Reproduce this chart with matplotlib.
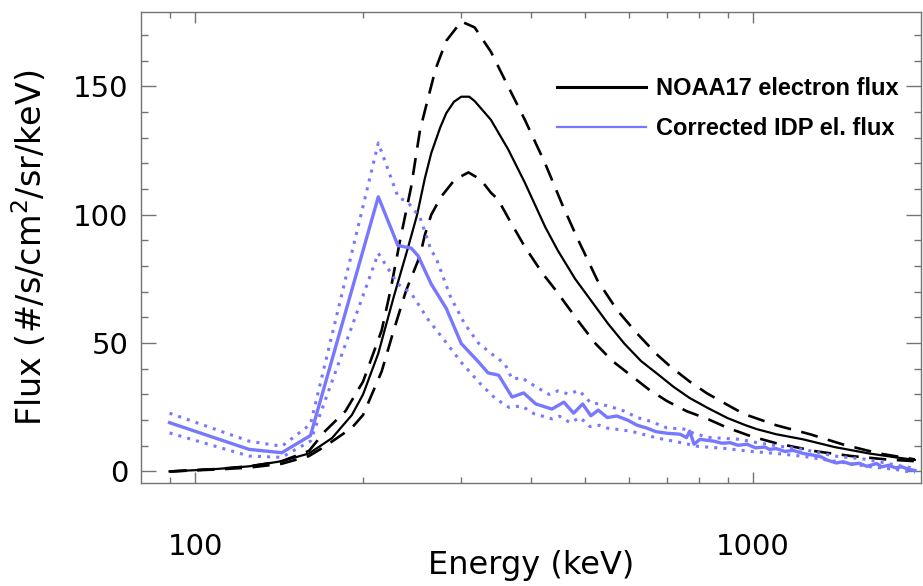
import numpy as np
import matplotlib
matplotlib.use('Agg')
import matplotlib.pyplot as plt
from matplotlib.lines import Line2D
from matplotlib.ticker import FixedLocator, NullFormatter, MultipleLocator

# NOAA17 electron flux (solid) and its upper / lower bounds (dashed)
e_noaa = [90, 100, 110, 125, 143, 160, 176, 191, 200, 213, 227, 241, 250, 258, 265, 275,
          282, 291, 300, 310, 317, 339, 364, 390, 424, 447, 480, 512, 550, 588, 630, 674,
          720, 770, 830, 900, 970, 1015, 1100, 1230, 1400, 1615, 1800, 1950]
f_noaa = [0, 0.5, 1, 2, 4, 7, 13, 22, 30, 46, 68, 87.5, 100, 114, 124, 134,
          139.6, 144, 146, 146, 144.3, 137, 125.5, 112.5, 95.3, 86, 75, 66.7, 57.5, 49.8, 43, 38,
          33, 28.6, 24.7, 20.8, 18, 16.5, 14.5, 12.5, 9.5, 7, 5.5, 4.5]

e_noaa_hi = [90, 110, 125, 143, 160, 171, 186, 200, 216, 224, 233, 244, 253, 262, 270, 282,
             300, 317, 339, 364, 390, 424, 455, 484, 526, 570, 620, 673, 710, 770, 826, 890,
             963, 1100, 1265, 1450, 1683, 1950]
f_noaa_hi = [0, 1, 2, 4, 8, 15.7, 23.5, 35, 55, 70.6, 90, 111, 133, 146, 157, 167.8,
             175.3, 173, 163.5, 150, 137, 120, 104, 91, 74.5, 63, 53.7, 45.5, 41, 35, 30.5, 26.5,
             22.4, 18, 14.5, 10.5, 7, 4.7]

e_noaa_lo = [90, 110, 125, 143, 160, 171, 191, 200, 216, 227, 239, 253, 258, 265, 276, 292,
             309, 325, 339, 349, 368, 390, 420, 446, 459, 490, 522, 560, 596, 650, 700, 760,
             830, 900, 992, 1100, 1300, 1500, 1730, 1950]
f_noaa_lo = [0, 0.8, 1.5, 3, 6, 9.8, 17, 22, 39, 55, 70.6, 84, 92, 100, 107, 113.7,
             116.5, 113.7, 108.6, 106, 97, 87.5, 77, 69.8, 66, 57.6, 49.8, 43, 38.4, 32, 27.5, 23.5,
             20.4, 17, 13.7, 11, 7.8, 6, 4.7, 4]

# Corrected IDP electron flux (solid) and bounds (dotted)
e_idp = [90, 125, 143, 161, 213, 231, 244, 251, 265, 282, 300, 322, 335, 350, 370, 388,
         408, 436, 458, 477, 495, 512, 528, 548, 570, 596, 620, 645, 670, 700, 740, 760,
         770, 784, 803, 850, 880, 910, 940, 975, 1010, 1050, 1070, 1100, 1140, 1180, 1230,
         1270, 1320, 1360, 1410, 1450, 1500, 1550, 1600, 1665, 1700, 1750, 1800, 1850, 1900, 1950]
f_idp = [19, 8.6, 7.3, 14, 107, 88, 87, 84, 73, 63.5, 49.8, 42.7, 38.4, 37.5, 29, 30.6,
         26.3, 24.3, 27, 22.7, 26.3, 21.7, 23.9, 21, 21.6, 20, 18, 16.9, 15.5, 14.9, 14.5, 13.2,
         15.7, 10.6, 12.5, 11.8, 11, 11.2, 10.2, 10.6, 9.2, 9.5, 8.6, 8.9, 7.8, 8.2, 7,
         6.5, 5.8, 4.4, 3.3, 3.8, 2.8, 3.2, 2.0, 3.1, 1.8, 2.4, 1.4, 1.8, 0.8, 0.4]

e_idp_hi = [90, 125, 143, 161, 213, 231, 241, 253, 265, 270, 287, 304, 322, 339, 359, 370,
            385, 408, 431, 447, 466, 488, 512, 532, 560, 588, 620, 654, 700, 752, 780, 830,
            870, 950, 1000, 1100, 1230, 1400, 1600, 1800, 1950]
f_idp_hi = [22.7, 11.8, 9.8, 18.4, 128, 107, 104.7, 99, 86, 83.5, 68, 57.6, 50, 46, 42, 36,
            36.5, 33, 30, 31.4, 30.2, 31.5, 26.7, 26.3, 25, 23.5, 21, 19.6, 17, 16.5, 15, 13.3,
            13, 12.5, 11.5, 10, 8.6, 6, 4.7, 2.5, 1.2]

e_idp_lo = [90, 125, 143, 161, 213, 231, 244, 262, 280, 300, 325, 345, 365, 385, 405, 436,
            450, 470, 490, 510, 530, 548, 604, 674, 752, 795, 886, 992, 1100, 1230, 1400,
            1600, 1800, 1950]
f_idp_lo = [15, 6, 5.5, 11.8, 85, 73, 69.4, 59, 51, 42.5, 34, 28.5, 25, 25.5, 22.5, 20.5,
            21.5, 19, 21, 17.5, 18, 16.9, 15.7, 13, 11, 9.8, 9, 7.8, 7, 5.9, 4,
            2, 0.8, -0.5]

blue = '#7878ff'
frame = '0.45'

fig = plt.figure(figsize=(9.23, 5.86), dpi=100)
ax = fig.add_axes([141/923, 103/586, 780/923, 471/586])

ax.plot(e_noaa, f_noaa, color='black', lw=1.6)
ax.plot(e_noaa_hi, f_noaa_hi, color='black', lw=1.9, linestyle=(0, (6.5, 4)))
ax.plot(e_noaa_lo, f_noaa_lo, color='black', lw=1.9, linestyle=(0, (6.5, 4)))

ax.plot(e_idp, f_idp, color=blue, lw=2.4)
ax.plot(e_idp_hi, f_idp_hi, color=blue, lw=2.2, linestyle=(0, (1, 2)))
ax.plot(e_idp_lo, f_idp_lo, color=blue, lw=2.2, linestyle=(0, (1, 2)))

ax.set_xscale('log')
ax.set_xlim(80, 2000)
ax.set_ylim(-4.5, 179)

ax.xaxis.set_major_locator(FixedLocator([100, 1000]))
ax.xaxis.set_minor_locator(FixedLocator([90, 200, 300, 400, 500, 600, 700, 800, 900]))
ax.xaxis.set_minor_formatter(NullFormatter())
ax.set_xticklabels(['100', '1000'])
ax.yaxis.set_major_locator(MultipleLocator(50))
ax.yaxis.set_minor_locator(MultipleLocator(10))

ax.tick_params(axis='both', which='both', direction='in', top=True, right=True,
               color=frame, width=1, labelsize=21)
ax.tick_params(axis='x', which='major', length=8, pad=36)
ax.tick_params(axis='x', which='minor', length=4)
ax.tick_params(axis='y', which='major', length=11, pad=9)
ax.tick_params(axis='y', which='minor', length=5)
for s in ax.spines.values():
    s.set_color(frame)
    s.set_linewidth(1)

ax.set_xlabel('Energy (keV)', fontsize=23)
ax.xaxis.set_label_coords(0.5, -0.143)
ax.set_ylabel('Flux (#/s/cm$^2$/sr/keV)', fontsize=24, labelpad=17)

handles = [Line2D([], [], color='black', lw=2.2),
           Line2D([], [], color=blue, lw=1.6)]
ax.legend(handles, ['NOAA17 electron flux', 'Corrected IDP el. flux'],
          loc='upper left', bbox_to_anchor=(0.533, 0.862), frameon=False,
          borderaxespad=0, borderpad=0, handlelength=3.8, handletextpad=0.4,
          labelspacing=0.72, prop={'family': 'Liberation Sans', 'weight': 'bold', 'size': 17})

fig.savefig('out.png', dpi=100)
